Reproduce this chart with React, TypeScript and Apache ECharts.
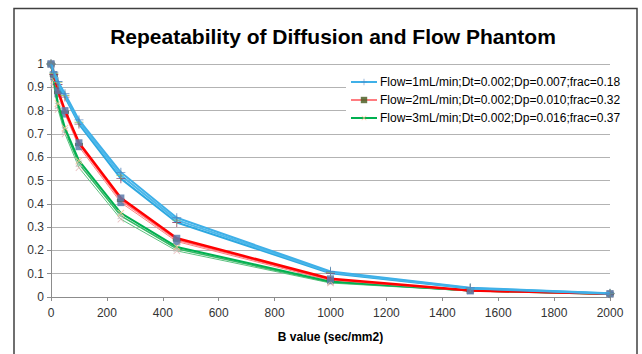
import React, { useEffect, useRef } from "react";
import * as echarts from "echarts";

const bValues = [0, 10, 25, 50, 100, 250, 450, 1000, 1500, 2000];

const flow1Run1 = [1, 0.965, 0.925, 0.872, 0.76, 0.535, 0.34, 0.11, 0.04, 0.016];
const flow1Run2 = [1, 0.96, 0.92, 0.865, 0.75, 0.522, 0.33, 0.106, 0.038, 0.015];
const flow1Run3 = [1, 0.955, 0.912, 0.858, 0.742, 0.508, 0.32, 0.102, 0.036, 0.014];

const flow2Run1 = [1, 0.95, 0.878, 0.793, 0.655, 0.415, 0.245, 0.074, 0.027, 0.013];
const flow2Run2 = [1, 0.955, 0.885, 0.8, 0.662, 0.425, 0.252, 0.078, 0.028, 0.014];
const flow2Run3 = [1, 0.945, 0.872, 0.785, 0.645, 0.405, 0.238, 0.07, 0.026, 0.013];

const flow3Run1 = [1, 0.93, 0.83, 0.725, 0.585, 0.36, 0.215, 0.066, 0.028, 0.013];
const flow3Run2 = [1, 0.92, 0.82, 0.715, 0.572, 0.348, 0.207, 0.063, 0.027, 0.013];
const flow3Run3 = [1, 0.905, 0.805, 0.7, 0.555, 0.334, 0.198, 0.06, 0.026, 0.012];

const legendNames = [
  "Flow=1mL/min;Dt=0.002;Dp=0.007;frac=0.18",
  "Flow=2mL/min;Dt=0.002;Dp=0.010;frac=0.32",
  "Flow=3mL/min;Dt=0.002;Dp=0.016;frac=0.37",
];

const PLUS = "path://M4.5,0h1v4.5h4.5v1h-4.5v4.5h-1v-4.5h-4.5v-1h4.5z";

function pairs(vals: number[]) {
  return bValues.map((b, i) => [b, vals[i]]);
}

function mk(
  name: string,
  vals: number[],
  lineColor: string,
  width: number,
  symbol: string,
  symColor: string,
  symSize: number | number[],
  rotate = 0,
  z = 2
) {
  return {
    name,
    type: "line",
    data: pairs(vals),
    symbol,
    symbolSize: symSize,
    symbolRotate: rotate,
    showSymbol: true,
    lineStyle: { color: lineColor, width },
    itemStyle: { color: symColor, borderWidth: 0, opacity: 0.85 },
    z,
  };
}

export default function App() {
  const ref = useRef<HTMLDivElement>(null);
  useEffect(() => {
    const chart = echarts.init(ref.current!, null, { renderer: "svg" });
    const series = [
      mk("f3c", flow3Run3, "#5cc17f", 1, PLUS, "#e6b9b8", 9, 45, 2),
      mk("f3b", flow3Run2, "#36b866", 1.5, PLUS, "#bfbfbf", 9, 45, 2),
      mk(legendNames[2], flow3Run1, "#00b050", 2, PLUS, "#fac090", 9, 45, 3),
      mk("f2c", flow2Run3, "#ff8080", 1, "rect", "#5b7bab", 7, 0, 2),
      mk(legendNames[1], flow2Run1, "#ff7c80", 1.5, "rect", "#4f6228", [8, 3], 0, 3),
      mk("f2b", flow2Run2, "#ff0000", 2.5, "rect", "#5b7bab", 7, 0, 4),
      mk("f1c", flow1Run3, "#2ea8e0", 2, PLUS, "#8b3a62", 9, 0, 5),
      mk("f1b", flow1Run2, "#4cb8ea", 2, PLUS, "#9bbb59", 9, 0, 5),
      mk(legendNames[0], flow1Run1, "#3fb0e8", 2, PLUS, "#4f81bd", 9, 0, 6),
    ];
    chart.setOption({
      animation: false,
      backgroundColor: "#ffffff",
      title: {
        text: "Repeatability of Diffusion and Flow Phantom",
        left: 328,
        top: 21,
        textAlign: "center",
        textStyle: {
          fontFamily: "Liberation Sans",
          fontSize: 21,
          fontWeight: "bold",
          color: "#000000",
        },
      },
      graphic: [
        {
          type: "rect",
          shape: { x: 14, y: 8.5, width: 623, height: 360 },
          style: { fill: "none", stroke: "#404040", lineWidth: 1.5 },
          silent: true,
          z: 100,
        },
      ],
      legend: {
        data: legendNames,
        left: 346,
        top: 71,
        orient: "vertical",
        itemGap: 6,
        itemWidth: 26,
        itemHeight: 8,
        padding: [5, 6, 8, 4],
        backgroundColor: "#ffffff",
        textStyle: {
          fontFamily: "Liberation Sans",
          fontSize: 12,
          color: "#000000",
          padding: [0, 0, 0, -2],
        },
      },
      grid: { left: 51, right: 32, top: 64, bottom: 57 },
      xAxis: {
        type: "value",
        min: 0,
        max: 2000,
        interval: 200,
        name: "B value (sec/mm2)",
        nameLocation: "middle",
        nameGap: 34,
        nameTextStyle: {
          fontFamily: "Liberation Sans",
          fontSize: 12,
          fontWeight: "bold",
          color: "#000000",
        },
        axisLine: { lineStyle: { color: "#8c8c8c", width: 1 } },
        axisTick: { show: true, length: 4, lineStyle: { color: "#8c8c8c" } },
        axisLabel: {
          fontFamily: "Liberation Sans",
          fontSize: 12,
          color: "#333333",
          margin: 10,
          formatter: (v: number) => String(v),
        },
        splitLine: { show: false },
      },
      yAxis: {
        type: "value",
        min: 0,
        max: 1,
        interval: 0.1,
        axisLine: { show: true, lineStyle: { color: "#8c8c8c", width: 1 } },
        axisTick: { show: true, length: 4, lineStyle: { color: "#8c8c8c" } },
        axisLabel: {
          fontFamily: "Liberation Sans",
          fontSize: 12,
          color: "#333333",
          margin: 7,
        },
        splitLine: { show: true, lineStyle: { color: "#b3b3b3", width: 1 } },
      },
      series,
    });
    return () => chart.dispose();
  }, []);
  return (
    <div
      ref={ref}
      style={{ position: "absolute", left: 0, top: 0, width: 642, height: 354 }}
    />
  );
}
